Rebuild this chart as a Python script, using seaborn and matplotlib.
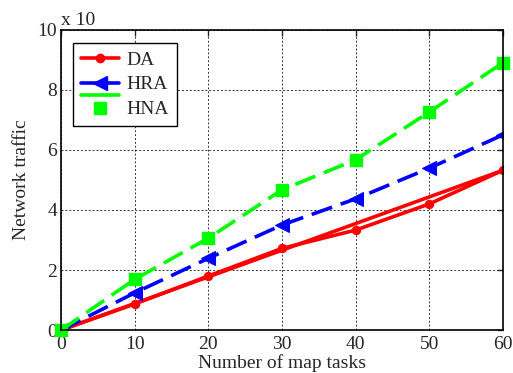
import matplotlib
matplotlib.use("Agg")
import matplotlib.pyplot as plt
import seaborn as sns
from matplotlib.lines import Line2D
from matplotlib.legend_handler import HandlerBase

tasks = [0, 10, 20, 30, 40, 50, 60]
da = [0, 0.87, 1.8, 2.72, 3.33, 4.2, 5.32]
hra = [0, 1.24, 2.39, 3.5, 4.37, 5.39, 6.5]
hna = [0, 1.69, 3.06, 4.67, 5.67, 7.26, 8.9]
fit_x = [0, 60]
fit_y = [0, 5.32]

sns.set_style("white")
plt.rcParams['font.family'] = ['Liberation Serif', 'DejaVu Serif']

fig = plt.figure(figsize=(5.13, 3.73), dpi=100)
ax = fig.add_axes([0.119, 0.115, 0.861, 0.805])

lw = 2.6
sns.lineplot(x=fit_x, y=fit_y, ax=ax, color='#ff0000', lw=lw)
sns.lineplot(x=tasks, y=da, ax=ax, color='#ff0000', lw=lw, marker='o', markersize=6,
             markeredgecolor='#ff0000')
sns.lineplot(x=tasks, y=hra, ax=ax, color='#0000ff', lw=lw, marker='<', markersize=10,
             markeredgecolor='#0000ff', dashes=(6, 2.5))
sns.lineplot(x=tasks, y=hna, ax=ax, color='#00ff00', lw=lw, dashes=(6, 2.5))
ax.plot(tasks, hna, ls='none', marker='s', markersize=9, color='#00ff00', clip_on=False)

fs = 14
ax.set_xlim(0, 60)
ax.set_ylim(0, 10)
ax.set_xticks([0, 10, 20, 30, 40, 50, 60])
ax.set_yticks([0, 2, 4, 6, 8, 10])
ax.tick_params(direction='in', labelsize=fs, length=4, width=1, top=True, right=True)
ax.tick_params(axis='x', pad=4)
ax.tick_params(axis='y', pad=3)
ax.grid(True, color='black', ls=(0, (2, 2)), lw=0.7, alpha=0.8)
for s in ax.spines.values():
    s.set_color('black')
    s.set_linewidth(1.2)
ax.set_xlabel('Number of map tasks', fontsize=fs, labelpad=1)
ax.set_ylabel('Network traffic', fontsize=fs, labelpad=5)
ax.text(0.0, 1.003, 'x 10', transform=ax.transAxes, fontsize=fs, ha='left', va='bottom')


class HNAHandler(HandlerBase):
    def create_artists(self, legend, orig_handle, xdescent, ydescent, width, height,
                       fontsize, trans):
        yc = height / 2 - ydescent
        line = Line2D([-xdescent, -xdescent + width], [yc + 9, yc + 9],
                      color='#00ff00', lw=lw, transform=trans)
        mk = Line2D([-xdescent + width / 2], [yc - 0.5], ls='none', marker='s',
                    markersize=9, color='#00ff00', transform=trans)
        return [line, mk]


class HNAKey:
    pass


handles = [
    Line2D([], [], color='#ff0000', lw=lw, marker='o', markersize=6),
    Line2D([], [], color='#0000ff', lw=lw, marker='<', markersize=10),
    HNAKey(),
]
labels = ['DA', 'HRA', 'HNA']
leg = ax.legend(handles, labels, loc='upper left', bbox_to_anchor=(0.028, 0.955),
                fontsize=fs, frameon=True, fancybox=False, edgecolor='black',
                framealpha=1, handlelength=1.95, labelspacing=0.36, borderpad=0.4,
                handletextpad=0.4, borderaxespad=0,
                handler_map={HNAKey: HNAHandler()})
leg.get_frame().set_linewidth(1.0)

fig.savefig('out.png', dpi=100)
